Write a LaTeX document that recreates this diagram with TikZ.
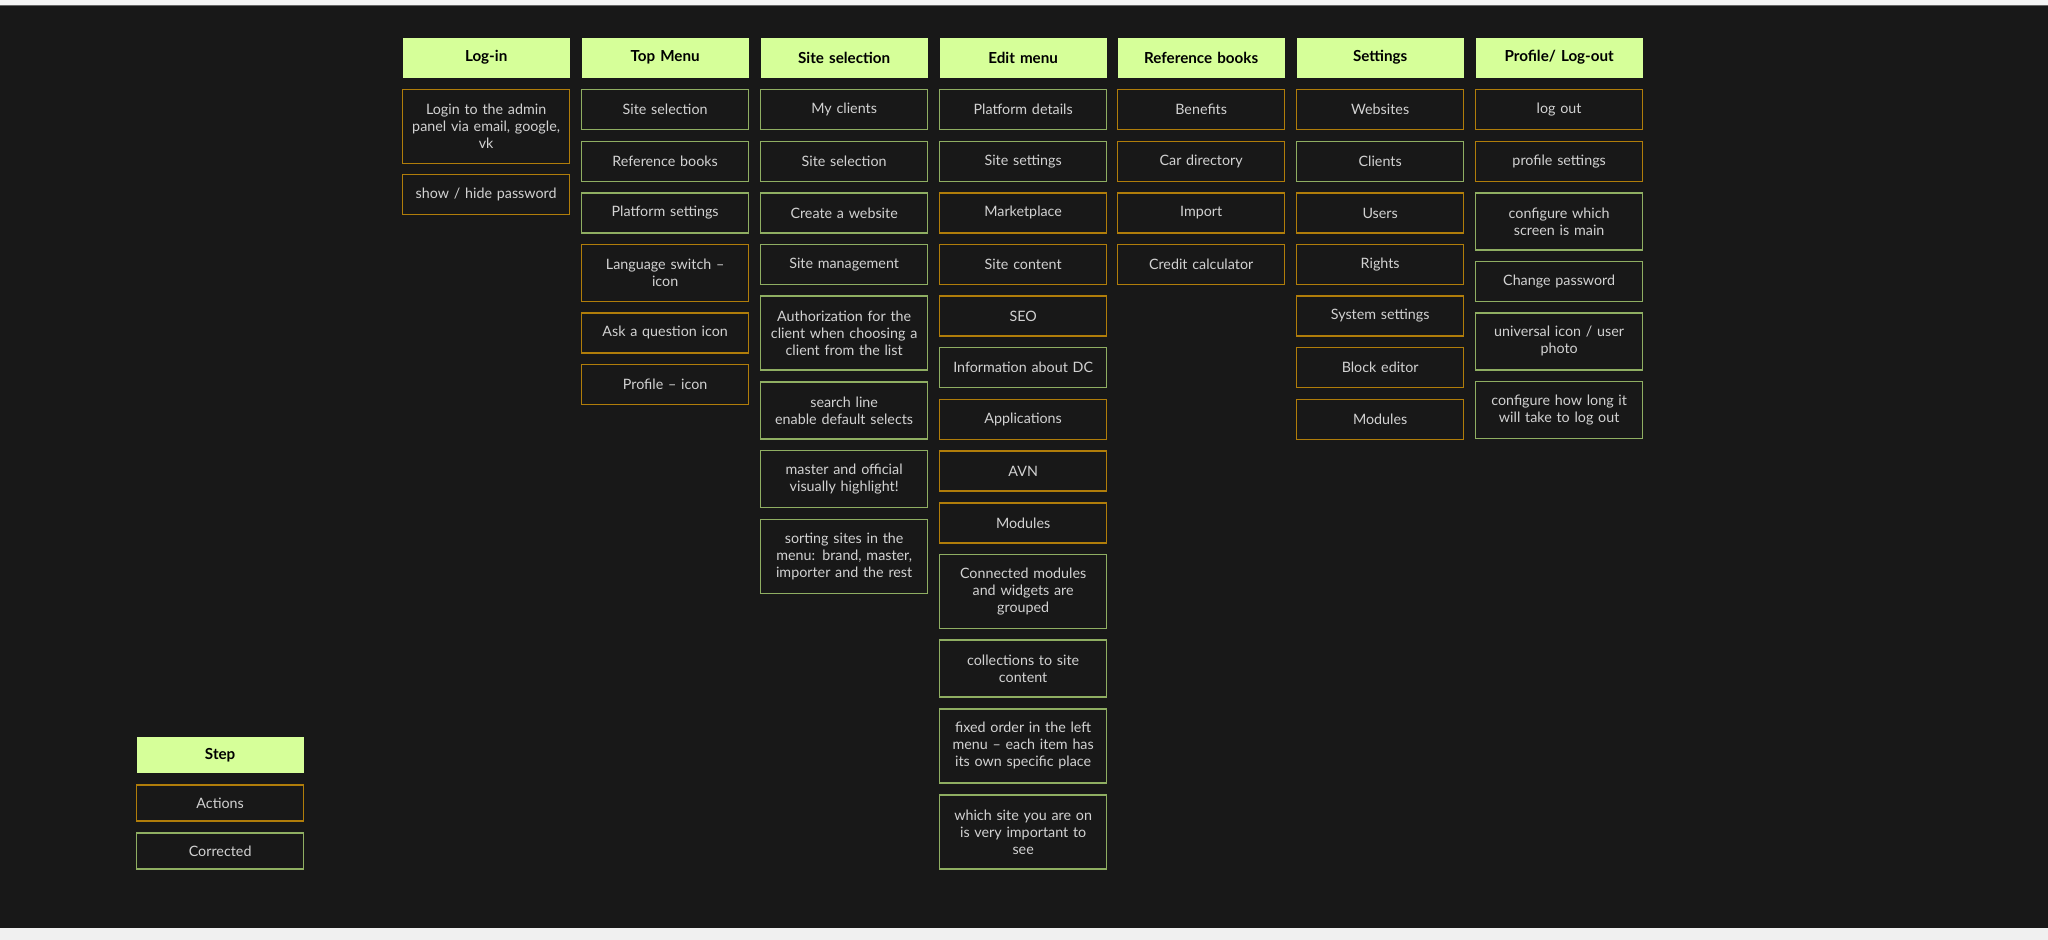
\documentclass[tikz,border=0pt]{standalone}
\usepackage{fontspec}
\setmainfont{Lato}
\definecolor{bgc}{HTML}{181818}
\definecolor{hdr}{HTML}{D6FF99}
\definecolor{orn}{HTML}{B07D0A}
\definecolor{grn}{HTML}{8FAE62}
\definecolor{txt}{HTML}{D2D2D2}
\tikzset{
  box/.style={draw, line width=0.65pt, fill=bgc, text=txt, anchor=north west,
    minimum width=83.5pt, text width=80pt, align=center, inner sep=0pt,
    font=\fontsize{7.15pt}{8.5pt}\selectfont},
  act/.style={box, draw=orn},
  cor/.style={box, draw=grn},
  hd/.style={box, draw=none, fill=hdr, text=black, font=\fontsize{7.6pt}{8.5pt}\selectfont\bfseries, minimum height=20pt},
  one/.style={minimum height=20pt},
  two/.style={minimum height=28.5pt},
  three/.style={minimum height=37pt},
  leg/.style={minimum height=18pt}
}
\begin{document}
\begin{tikzpicture}[x=0.5pt,y=-0.5pt]
\useasboundingbox (0,0) rectangle (2048,940);
\fill[bgc] (0,0) rectangle (2048,940);
\fill[white!96!black] (0,0) rectangle (2048,5);
\fill[black!60] (0,5) rectangle (2048,6.5);
\fill[white!94!black] (0,928) rectangle (2048,940);
% headers
\node[hd] (h1) at (402,37) {Log-in};
\node[hd] (h2) at (581,37) {Top Menu};
\node[hd] (h3) at (760,37) {Site selection};
\node[hd] (h4) at (939,37) {Edit menu};
\node[hd] (h5) at (1117,37) {Reference books};
\node[hd] (h6) at (1296,37) {Settings};
\node[hd] (h7) at (1475,37) {Profile/ Log-out};
% Log-in
\node[act,three] (a1) at (402,89) {Login to the admin\\panel via email, google,\\vk};
\node[act,one] (a2) at (402,174) {show / hide password};
% Top menu
\node[cor,one] (b1) at (581,89) {Site selection};
\node[cor,one] (b2) at (581,140.7) {Reference books};
\node[cor,one] (b3) at (581,192.3) {Platform settings};
\node[act,two] (b4) at (581,243.7) {Language switch --\\icon};
\node[act,one] (b5) at (581,312.3) {Ask a question icon};
\node[act,one] (b6) at (581,364) {Profile -- icon};
% Site selection
\node[cor,one] (c1) at (760,89) {My clients};
\node[cor,one] (c2) at (760,140.7) {Site selection};
\node[cor,one] (c3) at (760,192.3) {Create a website};
\node[cor,one] (c4) at (760,243.7) {Site management};
\node[cor,three] (c5) at (760,295.3) {Authorization for the\\client when choosing a\\client from the list};
\node[cor,two] (c6) at (760,381.3) {search line\\enable default selects};
\node[cor,two] (c7) at (760,450) {master and official\\visually highlight!};
\node[cor,three] (c8) at (760,519) {sorting sites in the\\menu: brand, master,\\importer and the rest};
% Edit menu
\node[cor,one] (d1) at (939,89) {Platform details};
\node[cor,one] (d2) at (939,140.7) {Site settings};
\node[act,one] (d3) at (939,192.3) {Marketplace};
\node[act,one] (d4) at (939,243.7) {Site content};
\node[act,one] (d5) at (939,295.3) {SEO};
\node[cor,one] (d6) at (939,347) {Information about DC};
\node[act,one] (d7) at (939,398.7) {Applications};
\node[act,one] (d8) at (939,450.3) {AVN};
\node[act,one] (d9) at (939,502.3) {Modules};
\node[cor,three] (d10) at (939,554) {Connected modules\\and widgets are\\grouped};
\node[cor,two] (d11) at (939,639.3) {collections to site\\content};
\node[cor,three] (d12) at (939,708.3) {fixed order in the left\\menu -- each item has\\its own specific place};
\node[cor,three] (d13) at (939,794.3) {which site you are on\\is very important to\\see};
% Reference books
\node[act,one] (e1) at (1117,89) {Benefits};
\node[act,one] (e2) at (1117,140.7) {Car directory};
\node[act,one] (e3) at (1117,192.3) {Import};
\node[act,one] (e4) at (1117,243.7) {Credit calculator};
% Settings
\node[act,one] (f1) at (1296,89) {Websites};
\node[cor,one] (f2) at (1296,140.7) {Clients};
\node[act,one] (f3) at (1296,192.3) {Users};
\node[act,one] (f4) at (1296,243.7) {Rights};
\node[act,one] (f5) at (1296,295.3) {System settings};
\node[act,one] (f6) at (1296,347) {Block editor};
\node[act,one] (f7) at (1296,398.7) {Modules};
% Profile
\node[act,one] (g1) at (1475,89) {log out};
\node[act,one] (g2) at (1475,140.7) {profile settings};
\node[cor,two] (g3) at (1475,192.3) {configure which\\screen is main};
\node[cor,one] (g4) at (1475,260.7) {Change password};
\node[cor,two] (g5) at (1475,312.3) {universal icon / user\\photo};
\node[cor,two] (g6) at (1475,381) {configure how long it\\will take to log out};
% Legend
\node[hd,leg,minimum height=18pt] (s1) at (136,736.3) {Step};
\node[act,leg] (s2) at (136,784.3) {Actions};
\node[cor,leg] (s3) at (136,832.3) {Corrected};
\end{tikzpicture}
\end{document}
